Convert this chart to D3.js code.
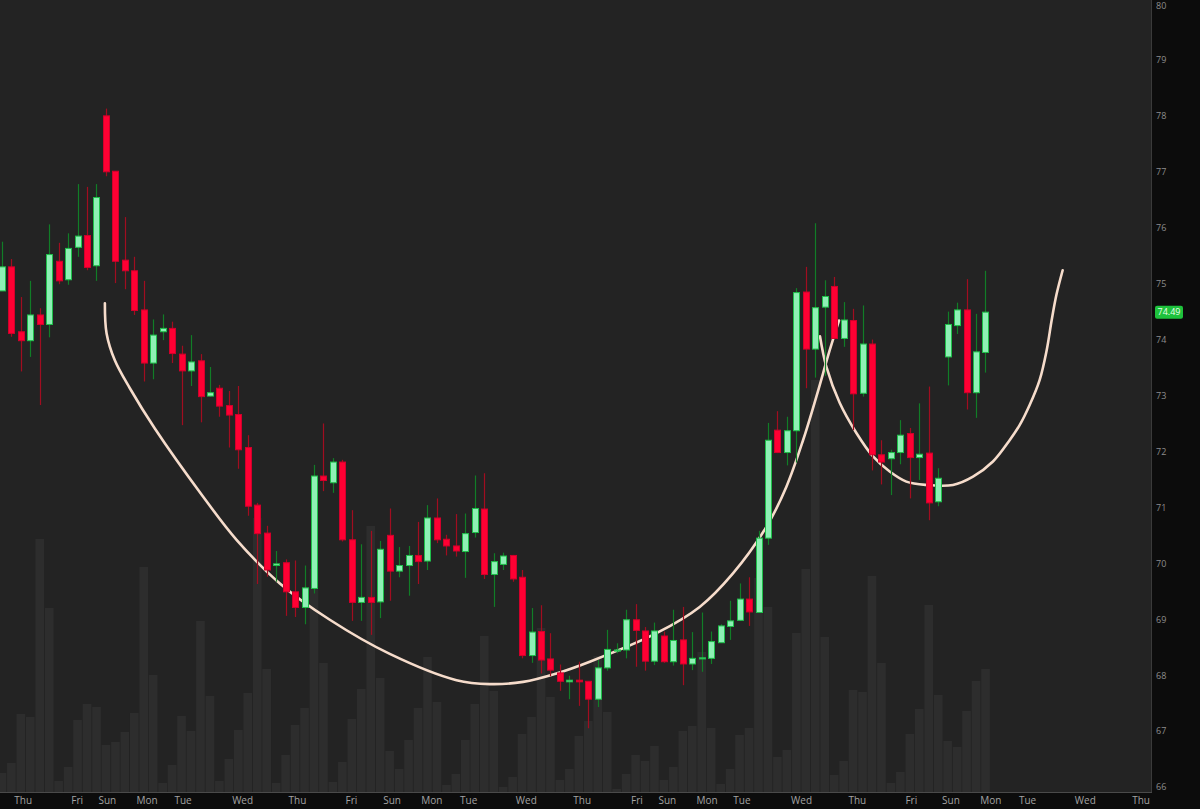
<!DOCTYPE html>
<html>
<head>
<meta charset="utf-8">
<script src="https://cdn.jsdelivr.net/npm/d3@7"></script>
<style>
  html, body { margin: 0; padding: 0; background: #0c0c0c; }
  svg { display: block; }
  text { font-family: "Open Sans", "DejaVu Sans", sans-serif; }
</style>
</head>
<body>
<svg id="chart"></svg>
<script>
// OHLC per bar (bar index = position in arrays)
const opens = [74.87,75.30,74.14,73.98,74.44,74.27,75.40,75.07,75.65,75.86,75.32,78.00,77.01,75.42,75.23,74.53,73.58,74.14,74.20,73.74,
  73.44,73.62,72.99,73.13,72.82,72.66,72.07,71.04,70.54,69.96,70.01,69.49,69.21,69.55,71.56,71.44,71.81,70.42,69.30,69.39,
  69.31,70.50,69.86,69.96,70.14,70.04,70.81,70.43,70.31,70.21,70.55,70.97,69.80,69.98,70.14,69.75,68.35,68.78,68.29,68.04,
  67.88,67.91,67.89,67.57,68.13,68.43,68.45,68.99,68.79,68.25,68.70,68.24,68.63,68.20,68.29,68.30,68.58,68.87,68.98,69.36,
  69.12,70.45,72.38,71.98,72.37,74.85,73.83,74.58,74.95,74.02,74.34,73.04,73.92,71.94,71.87,71.98,72.32,71.89,71.97,71.10,
  73.69,74.25,74.53,73.05,73.77];
const highs = [75.75,75.44,74.76,75.05,74.56,76.06,75.73,75.90,76.78,76.73,76.78,78.13,77.01,76.19,75.48,75.05,74.36,74.45,74.32,73.89,
  74.08,73.74,73.51,73.19,73.08,73.17,72.29,71.08,70.67,70.22,70.07,70.05,69.96,71.76,72.50,71.88,71.85,70.95,70.34,70.58,
  70.40,70.98,70.29,70.31,70.74,71.04,71.16,70.51,70.88,70.89,71.57,71.61,70.18,70.19,70.15,69.88,69.20,69.25,68.75,68.19,
  67.99,68.24,67.89,68.27,68.81,68.57,69.17,69.27,68.86,68.94,68.78,69.17,69.22,68.77,69.12,68.78,68.91,69.33,69.64,69.75,
  70.58,72.51,72.72,72.62,74.92,75.30,76.08,75.06,75.12,74.67,74.55,74.61,74.00,72.20,72.03,72.56,72.42,72.86,73.16,71.70,
  74.50,74.66,75.08,74.46,75.23];
const lows = [74.87,74.05,73.43,73.69,72.83,74.04,74.99,74.98,75.48,75.24,75.05,76.92,75.01,74.90,74.44,73.25,73.29,73.99,73.58,72.47,
  73.17,72.52,72.98,72.62,72.07,71.69,70.85,69.63,69.76,69.67,69.06,69.04,68.91,69.46,71.29,71.26,70.39,68.97,68.97,68.72,
  69.02,69.33,69.75,69.42,69.63,69.88,70.36,70.14,70.12,69.74,70.46,69.72,69.22,69.88,69.67,68.30,68.22,68.03,67.98,67.72,
  67.57,67.45,67.05,67.43,68.08,68.39,68.30,68.15,68.08,68.18,68.22,68.17,67.82,68.09,68.06,68.20,68.58,68.63,68.97,68.88,
  69.12,70.33,71.97,71.75,71.80,73.13,73.32,73.35,74.02,73.87,72.38,72.98,71.66,71.41,71.22,71.77,71.16,71.49,70.77,71.02,
  73.18,74.10,72.75,72.60,73.41];
const closes = [75.30,74.11,73.98,74.44,74.27,75.52,75.05,75.63,75.85,75.29,76.54,77.00,75.40,75.23,74.52,73.58,74.08,74.20,73.75,73.44,
  73.60,72.98,73.05,72.81,72.65,72.03,71.02,70.53,69.88,69.99,69.49,69.21,69.56,71.56,71.48,71.81,70.42,69.30,69.39,69.30,
  70.25,69.86,69.96,70.14,70.03,70.81,70.42,70.31,70.22,70.53,70.98,69.80,70.03,70.13,69.72,68.35,68.77,68.27,68.09,67.89,
  67.91,67.88,67.57,68.13,68.46,68.45,68.99,68.80,68.25,68.79,68.24,68.62,68.20,68.30,68.31,68.60,68.88,68.97,69.36,69.13,
  70.45,72.20,71.98,72.37,74.84,73.83,74.57,74.77,74.02,74.35,73.03,73.92,71.94,71.81,71.98,72.29,71.89,71.95,71.08,71.52,
  74.27,74.53,73.05,73.78,74.49];
const volumes = [19,29,78,75,253,184,11,25,72,88,85,47,50,60,79,225,117,9,27,76,
  61,171,96,11,33,62,99,274,123,9,37,67,84,223,129,10,30,73,103,266,
  114,41,23,52,84,135,90,7,18,52,88,156,101,5,15,58,75,164,95,12,
  23,56,71,136,80,3,18,37,31,46,12,25,61,66,140,64,8,23,57,64,
  214,185,35,42,159,223,412,155,17,31,102,100,216,129,9,20,58,83,187,97,
  51,45,81,111,123];

// hand-drawn cup & handle curves: [bar index, price]
const cupCurve = [[10.89,74.65],[11.07,74.11],[11.94,73.63],[13.53,73.13],[16.17,72.41],[21.28,71.19],[24.81,70.42],
  [29.39,69.64],[34.67,68.99],[41.01,68.38],[48.07,67.91],[51.59,67.84],[55.11,67.88],[58.64,68.03],[62.16,68.24],
  [69.21,68.75],[73.78,69.22],[77.30,69.82],[80.83,70.65],[82.95,71.37],[84.71,72.20],[86.12,72.98],[87.53,73.81],[88.51,74.34]];
const handleCurve = [[86.50,74.06],[87.18,73.51],[88.58,72.87],[90.35,72.33],[92.11,71.91],[93.87,71.64],[95.63,71.46],
  [97.75,71.40],[100.56,71.40],[102.68,71.55],[104.79,71.82],[106.55,72.20],[107.61,72.47],[108.67,72.83],[109.73,73.28],
  [110.47,73.81],[111.0,74.35],[111.5,74.80],[112.16,75.24]];

// day labels on the time axis
const dayTicks = [2.2,7.9,11.1,15.3,19.1,25.4,31.2,36.9,41.2,45.4,49.3,55.4,61.3,67.1,70.3,74.5,78.2,84.5,90.4,96.1,100.3,104.5,108.4,114.5,120.4];
const dayNames = ["Thu","Fri","Sun","Mon","Tue","Wed","Thu","Fri","Sun","Mon","Tue","Wed","Thu","Fri","Sun","Mon","Tue","Wed","Thu","Fri","Sun","Mon","Tue","Wed","Thu"];
const priceTicks = [66,67,68,69,70,71,72,73,74,75,76,77,78,79,80];
const lastPrice = 74.49;

const W = 1200, H = 809;
const plotW = 1151, plotH = 792;

const svg = d3.select('#chart').attr('width', W).attr('height', H);
svg.append('rect').attr('width', W).attr('height', H).attr('fill', '#0c0c0c');
svg.append('rect').attr('width', plotW).attr('height', plotH).attr('fill', '#232323');

svg.append('clipPath').attr('id', 'plotclip')
  .append('rect').attr('width', plotW).attr('height', plotH);

const x = d3.scaleLinear().domain([-0.2, 121.5]).range([0, plotW]);
const y = d3.scaleLinear().domain([66, 80]).range([787, 4]);
const vy = d3.scaleLinear().domain([0, 412]).range([plotH, 380]);
const step = x(1) - x(0);

const bars = d3.range(opens.length).map(i => ({
  i: i, o: opens[i], h: highs[i], l: lows[i], c: closes[i], v: volumes[i]
}));

const plot = svg.append('g').attr('clip-path', 'url(#plotclip)');

// volume
plot.append('g').selectAll('rect')
  .data(bars)
  .join('rect')
  .attr('x', d => x(d.i) - step / 2 + 0.4)
  .attr('y', d => vy(d.v))
  .attr('width', step - 0.8)
  .attr('height', d => plotH - vy(d.v))
  .attr('fill', '#2d2d2d');

// curves
const line = d3.line()
  .x(d => x(d[0]))
  .y(d => y(d[1]))
  .curve(d3.curveCatmullRom.alpha(0.5));

[cupCurve, handleCurve].forEach(pts => {
  plot.append('path')
    .attr('d', line(pts))
    .attr('fill', 'none')
    .attr('stroke', '#f6dccb')
    .attr('stroke-width', 2.6)
    .attr('stroke-linecap', 'round');
});

// wicks
plot.append('g').selectAll('line')
  .data(bars)
  .join('line')
  .attr('x1', d => Math.round(x(d.i)) + 0.5)
  .attr('x2', d => Math.round(x(d.i)) + 0.5)
  .attr('y1', d => y(d.h))
  .attr('y2', d => y(d.l))
  .attr('stroke', d => d.c >= d.o ? '#117d27' : '#a10d20')
  .attr('stroke-width', 1.2);

// bodies
plot.append('g').selectAll('rect')
  .data(bars)
  .join('rect')
  .attr('x', d => Math.round(x(d.i)) - 2.5)
  .attr('y', d => y(Math.max(d.o, d.c)))
  .attr('width', 6)
  .attr('height', d => Math.max(1, Math.abs(y(d.o) - y(d.c))))
  .attr('fill', d => d.c >= d.o ? '#8ef0b5' : '#ff0033')
  .attr('stroke', d => d.c >= d.o ? '#1fbf4a' : '#d2002b')
  .attr('stroke-width', 1);

// frame lines
svg.append('line').attr('x1', 0).attr('x2', plotW + 1).attr('y1', plotH + 0.5).attr('y2', plotH + 0.5)
  .attr('stroke', '#4a4a4a');
svg.append('line').attr('x1', plotW + 0.5).attr('x2', plotW + 0.5).attr('y1', 0).attr('y2', plotH)
  .attr('stroke', '#3a3a3a');

// axes
const xaxis = d3.axisBottom(x)
  .tickValues(dayTicks)
  .tickFormat((d, i) => dayNames[i])
  .tickSize(0)
  .tickPadding(5);
const xg = svg.append('g').attr('transform', `translate(0, ${plotH})`).call(xaxis);
xg.select('.domain').remove();
xg.selectAll('text').attr('fill', '#a3a3a3').style('font-size', '10px');

const yaxis = d3.axisRight(y)
  .tickValues(priceTicks)
  .tickFormat(d3.format('d'))
  .tickSize(0)
  .tickPadding(0);
const yg = svg.append('g').attr('transform', `translate(${plotW + 5}, 0)`).call(yaxis);
yg.select('.domain').remove();
yg.selectAll('text').attr('fill', '#8c8c8c').style('font-size', '9px');
// keep the top label inside the frame
yg.selectAll('.tick').filter(d => d === 80).select('text').attr('dy', '0.75em').attr('y', -2);

// last price badge
const badge = svg.append('g').attr('transform', `translate(${plotW + 4}, ${y(lastPrice)})`);
badge.append('rect')
  .attr('x', 0).attr('y', -6.5)
  .attr('width', 28).attr('height', 13)
  .attr('rx', 2)
  .attr('fill', '#1ec23c');
badge.append('text')
  .attr('x', 14).attr('y', 0)
  .attr('dy', '0.34em')
  .attr('text-anchor', 'middle')
  .attr('fill', '#eaffea')
  .style('font-size', '9px')
  .text(lastPrice.toFixed(2));
</script>
</body>
</html>
